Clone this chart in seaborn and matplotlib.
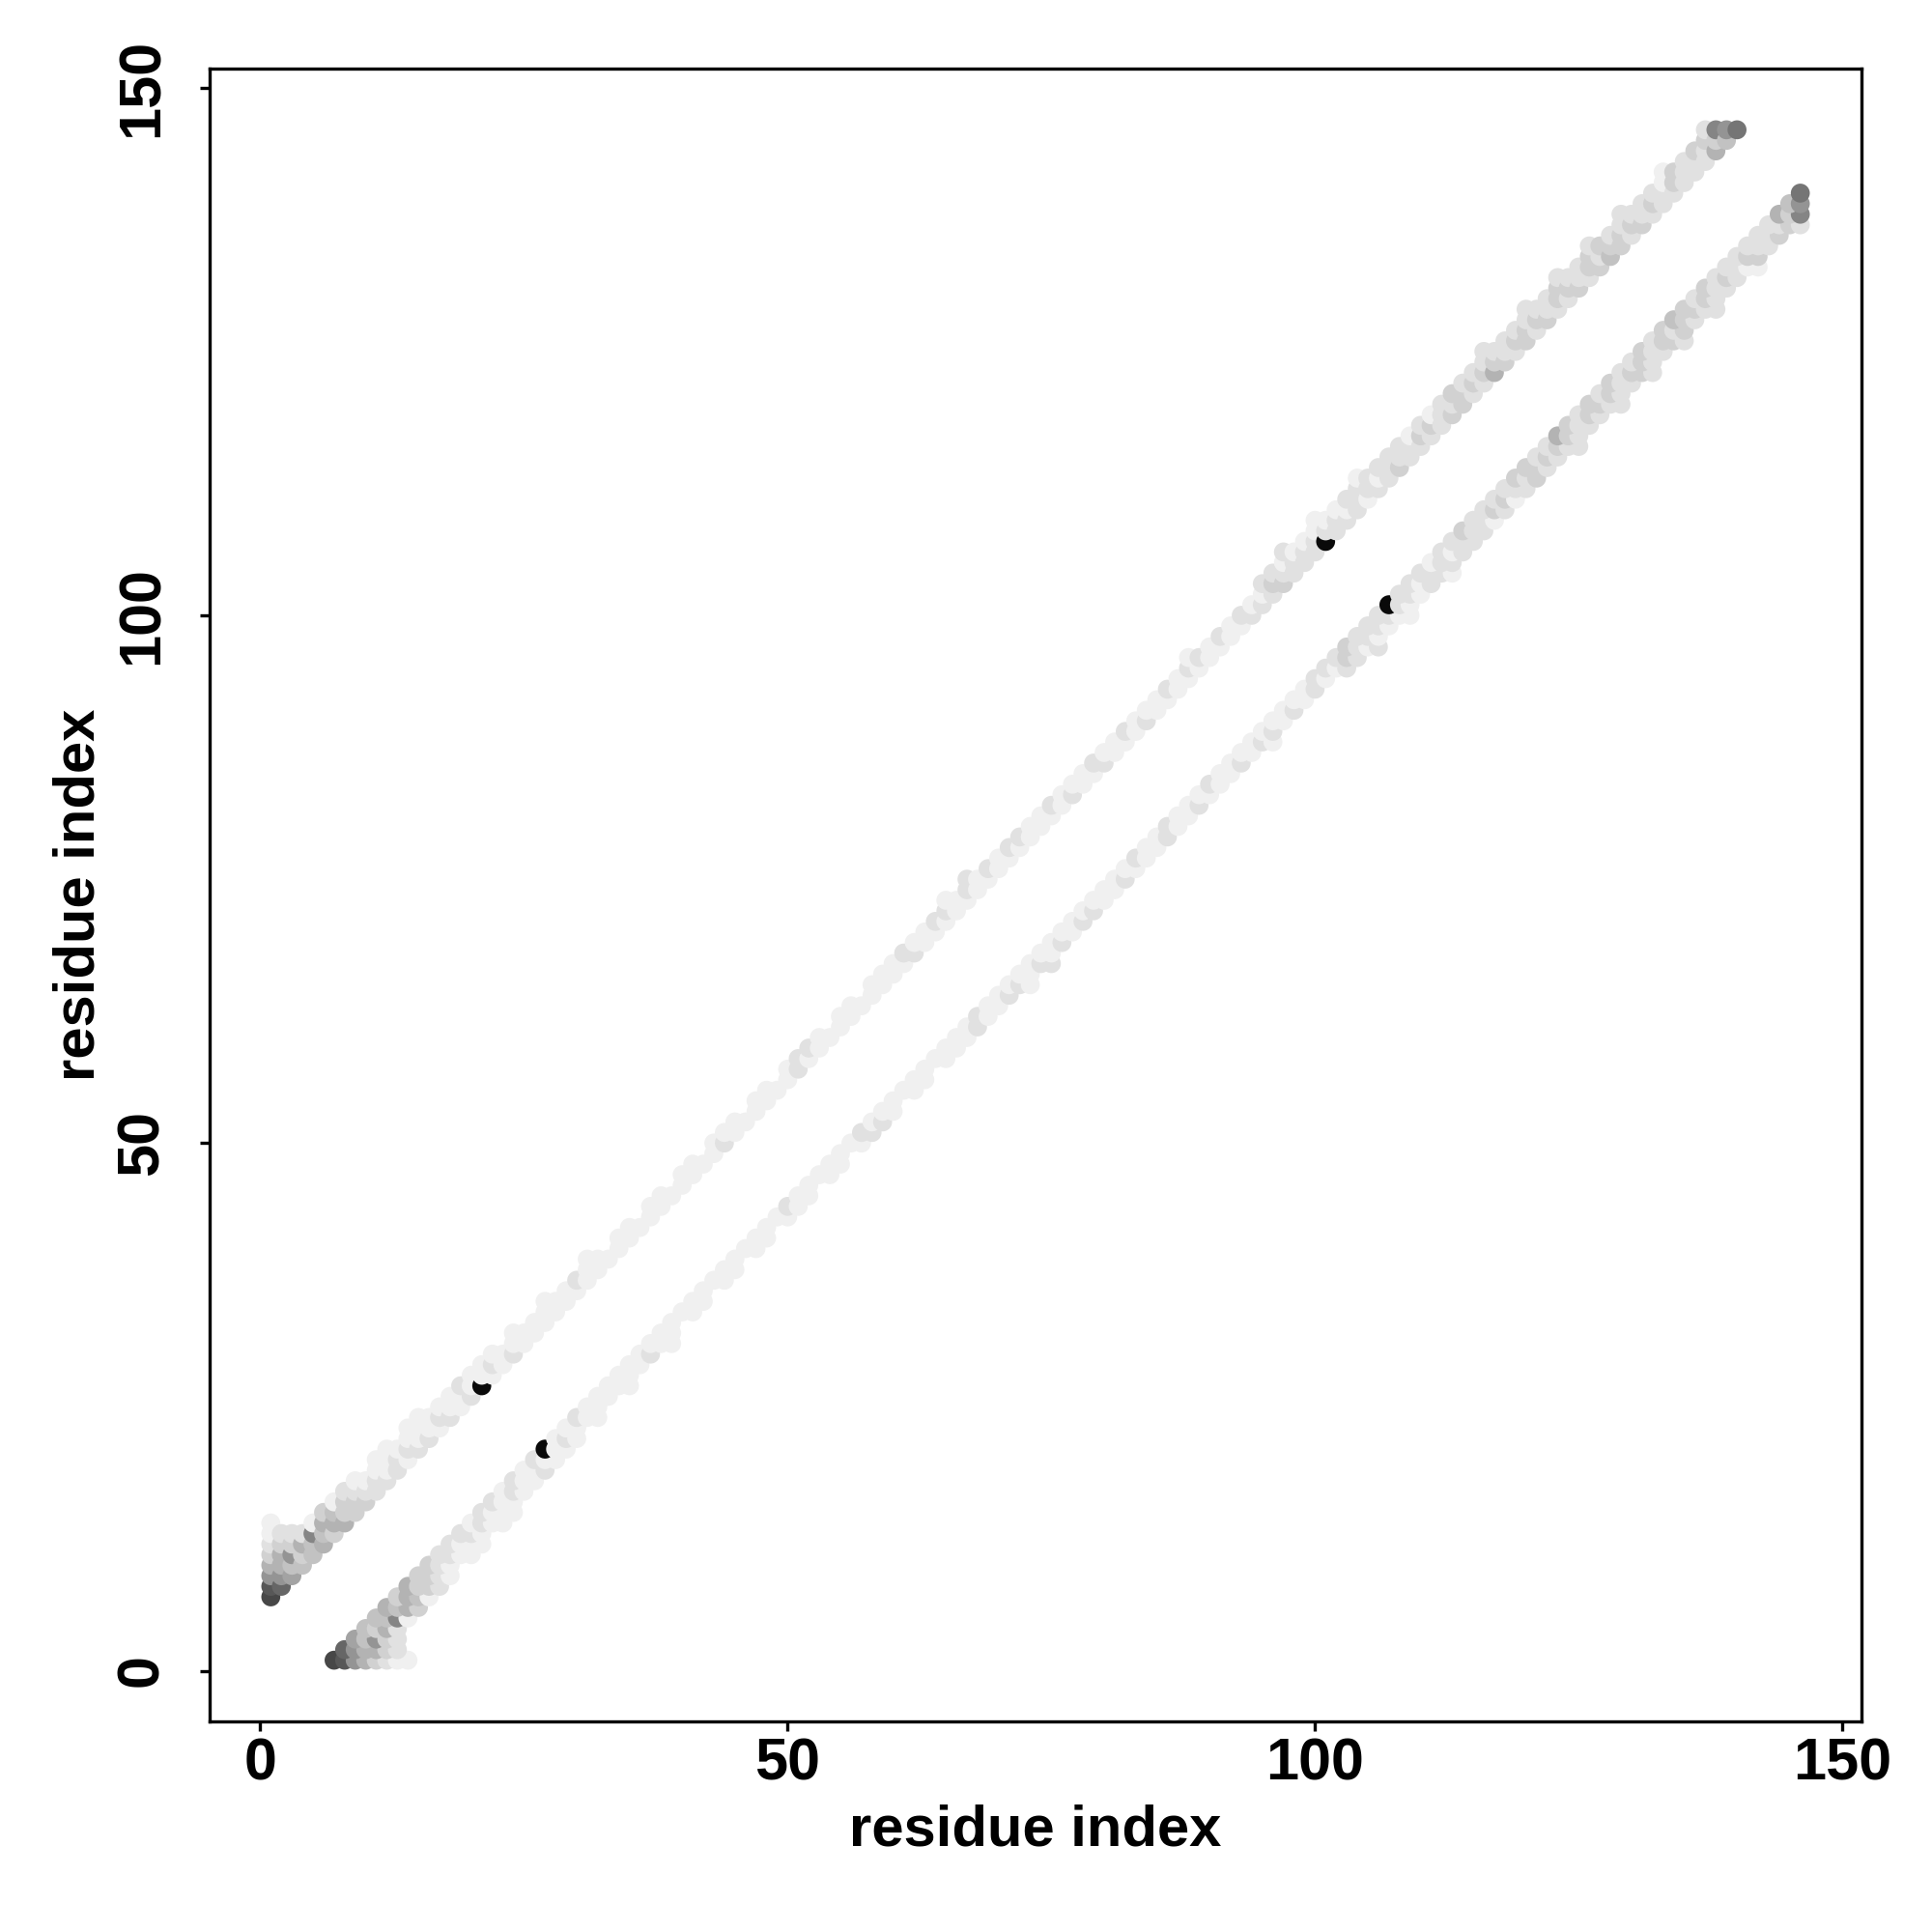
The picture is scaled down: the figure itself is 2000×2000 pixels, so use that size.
import matplotlib
matplotlib.use("Agg")
import matplotlib.pyplot as plt
import pandas as pd
import seaborn as sns

# contact map: residue i is paired with j = i + 6 + k for the k-th char of its row
# the shade is a hex digit, 0 = black ... f = nearly white
first_residue = 1
min_separation = 6

shades_start = [  # residues 1-21
    "459bdeff", "69bbde", "ac9de", "cdbe", "cc8f", "bcbd", "dbcf",
    "bdde", "ddef", "def", "eeff", "efff", "eef", "feff", "efff", "eff",
    "fef", "eff", "ffe", "eff", "0ff",
]
shades_middle = [  # residues 22-94
    "fef", "ff", "eff", "ff", "ff", "fff", "ff", "ff", "fe", "fff",
    "ff", "f", "ff", "ff", "f", "ff", "ff", "f", "ff", "ff",
    "f", "ff", "ef", "ff", "f", "ff", "ff", "f", "ff", "ee",
    "fe", "ff", "f", "ff", "ff", "f", "ff", "ff", "ff", "fe",
    "ef", "ff", "fe", "fef", "ff", "fee", "ff", "fe", "ff", "fe",
    "fe", "ff", "ff", "fe", "ff", "ef", "ff", "fe", "ef", "ff",
    "fe", "ff", "ef", "ff", "fe", "ff", "fef", "fe", "ff", "fe",
    "ff", "fe", "ef",
]
shades_end = [  # residues 95-140
    "efe", "ede", "defe", "eef", "eef", "eeff", "0ef", "eef", "efe", "eeef",
    "fee", "efe", "eee", "dee", "eef", "ede", "edf", "eee", "ded", "dde",
    "ede", "edee", "bde", "dee", "ede", "ddee", "ede", "dee", "edde", "ede",
    "dee", "edde", "ded", "cde", "ddee", "ede", "dee", "ede", "eeff", "edd",
    "eee", "eed", "eede", "bd8", "c9", "7",
]

rows = []
for n, row in enumerate(shades_start + shades_middle + shades_end):
    i = first_residue + n
    for k, ch in enumerate(row):
        j = i + min_separation + k
        gray = 0.04 + 0.06 * int(ch, 16)
        rows.append((i, j, gray))
        rows.append((j, i, gray))
contacts = pd.DataFrame(rows, columns=["res_x", "res_y", "gray"])

sns.set_style("white")
plt.rcParams["font.family"] = ["Liberation Sans", "DejaVu Sans"]
plt.rcParams["font.weight"] = "bold"

fig = plt.figure(figsize=(10, 10), dpi=200)
ax = fig.add_axes([0.1085, 0.109, 0.855, 0.8555])

sns.scatterplot(data=contacts, x="res_x", y="res_y", hue="gray",
                palette=matplotlib.colormaps["gray"], hue_norm=(0, 1),
                s=50, linewidth=0, legend=False, ax=ax)

ax.set_xlim(-4.8, 151.8)
ax.set_ylim(-4.8, 151.8)
ax.set_xticks([0, 50, 100, 150])
ax.set_yticks([0, 50, 100, 150])
for side in ax.spines.values():
    side.set_visible(True)
    side.set_color("black")
    side.set_linewidth(1.2)

ax.tick_params(axis="both", direction="out", length=3.6, width=1.2,
               labelsize=22, colors="black", left=True, bottom=True)
ax.tick_params(axis="x", pad=2.5)
ax.tick_params(axis="y", pad=11)
for lab in ax.get_yticklabels():
    lab.set_rotation(90)
    lab.set_va("center")
for lab in ax.get_xticklabels() + ax.get_yticklabels():
    lab.set_fontweight("bold")

ax.set_xlabel("residue index", fontsize=21.5, fontweight="bold", color="black")
ax.set_ylabel("residue index", fontsize=21.5, fontweight="bold", color="black")
ax.xaxis.set_label_coords(0.5, -0.05)
ax.yaxis.set_label_coords(-0.063, 0.5)

fig.savefig("out.png", dpi=200, facecolor="white")
